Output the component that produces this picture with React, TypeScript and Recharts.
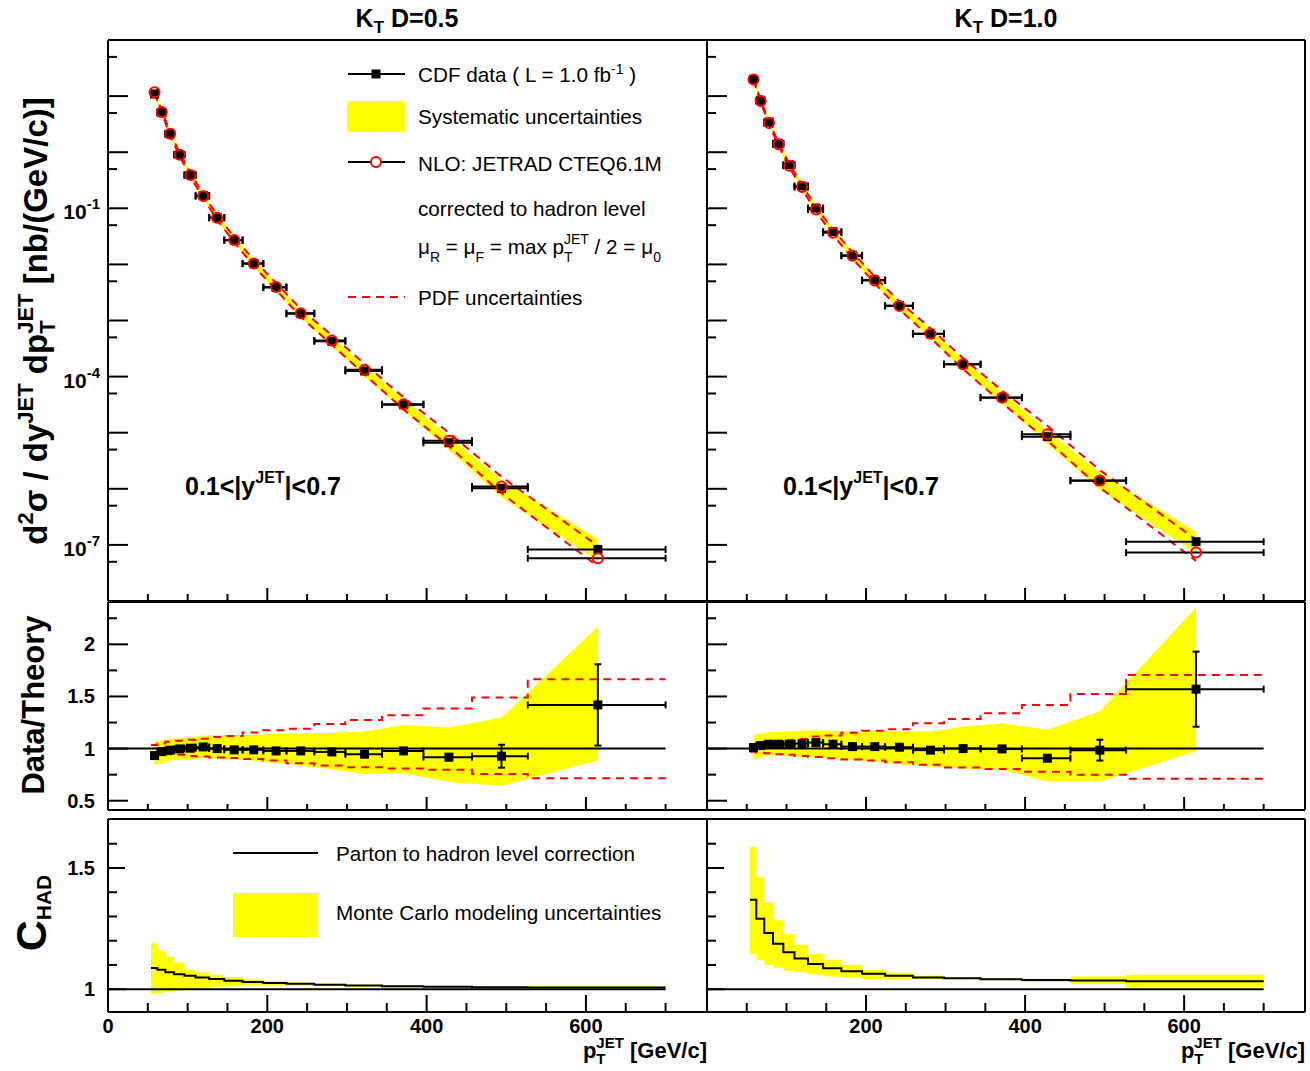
import React from 'react';
import { ComposedChart, Area, Line, Scatter, ErrorBar, XAxis, YAxis, ReferenceLine } from 'recharts';

const FONT = '"Liberation Sans", Arial, Helvetica, sans-serif';
const YELLOW = '#ffff00';
const RED = '#ff0000';

// pT bins [GeV/c] and mean pT of each bin
const binEdges = [54, 62, 72, 83, 96, 110, 127, 146, 169, 195, 224, 259, 298, 344, 396, 457, 527, 700];
const ptMean = [58.5, 67.5, 78, 90, 103.5, 119.5, 137, 158.5, 183, 211, 242, 281, 322, 371, 428, 494, 615];

// K_T D=0.5
const xsecD05 = [10.9, 5.06, 2.11, 0.9, 0.393, 0.168, 0.068, 0.0269, 0.0103, 3.87e-3, 1.32e-3, 4.26e-4, 1.26e-4, 3.15e-5, 6.63e-6, 1.02e-6, 8.3e-8];
const nloD05 = [11.7, 5.21, 2.14, 0.903, 0.391, 0.165, 0.068, 0.0272, 0.0104, 3.96e-3, 1.35e-3, 4.4e-4, 1.33e-4, 3.22e-5, 7.22e-6, 1.1e-6, 5.8e-8];
const ratioD05 = [0.933, 0.971, 0.985, 0.997, 1.004, 1.016, 1.0, 0.988, 0.988, 0.978, 0.978, 0.968, 0.946, 0.978, 0.918, 0.927, 1.419];
const statD05 = [0.004, 0.004, 0.004, 0.004, 0.004, 0.004, 0.004, 0.004, 0.005, 0.005, 0.006, 0.008, 0.012, 0.018, 0.03, 0.11, 0.39];
const sysUpD05 = [0.14, 0.11, 0.11, 0.1, 0.105, 0.105, 0.13, 0.145, 0.145, 0.165, 0.17, 0.19, 0.23, 0.255, 0.31, 0.4, 0.53];
const sysDnD05 = [0.1, 0.115, 0.1, 0.105, 0.105, 0.105, 0.095, 0.09, 0.105, 0.12, 0.14, 0.175, 0.2, 0.22, 0.26, 0.305, 0.375];
const pdfUpD05 = [1.035, 1.05, 1.065, 1.075, 1.085, 1.095, 1.11, 1.12, 1.155, 1.175, 1.19, 1.235, 1.275, 1.32, 1.385, 1.49, 1.665];
const pdfDnD05 = [0.955, 0.95, 0.945, 0.94, 0.93, 0.925, 0.915, 0.91, 0.9, 0.885, 0.86, 0.837, 0.822, 0.808, 0.796, 0.757, 0.716];
const chadD05 = [1.087, 1.08, 1.07, 1.062, 1.055, 1.048, 1.042, 1.035, 1.03, 1.026, 1.022, 1.018, 1.015, 1.012, 1.01, 1.008, 1.007];
const chadHiD05 = [1.19, 1.16, 1.135, 1.11, 1.08, 1.07, 1.06, 1.05, 1.04, 1.033, 1.028, 1.022, 1.018, 1.014, 1.012, 1.012, 1.012];
const chadLoD05 = [0.98, 0.985, 0.99, 0.995, 1.0, 1.005, 1.01, 1.012, 1.015, 1.015, 1.014, 1.012, 1.01, 1.008, 1.007, 1.004, 1.003];

// K_T D=1.0
const xsecD10 = [19.9, 8.41, 3.45, 1.44, 0.598, 0.25, 0.101, 0.0383, 0.0145, 5.27e-3, 1.84e-3, 5.74e-4, 1.66e-4, 4.21e-5, 8.49e-6, 1.39e-6, 1.14e-7];
const nloD10 = [19.7, 8.17, 3.31, 1.38, 0.574, 0.239, 0.0955, 0.0368, 0.0142, 5.17e-3, 1.82e-3, 5.83e-4, 1.66e-4, 4.22e-5, 9.35e-6, 1.41e-6, 7.3e-8];
const ratioD10 = [1.01, 1.029, 1.042, 1.042, 1.042, 1.048, 1.058, 1.042, 1.019, 1.019, 1.013, 0.985, 1.0, 0.997, 0.908, 0.985, 1.57];
const statD10 = [0.004, 0.004, 0.004, 0.004, 0.004, 0.004, 0.004, 0.004, 0.005, 0.005, 0.006, 0.008, 0.012, 0.018, 0.03, 0.1, 0.36];
const sysUpD10 = [0.12, 0.113, 0.11, 0.115, 0.12, 0.118, 0.109, 0.125, 0.148, 0.148, 0.151, 0.18, 0.21, 0.247, 0.3, 0.38, 0.5];
const sysDnD10 = [0.117, 0.11, 0.098, 0.103, 0.11, 0.12, 0.13, 0.13, 0.127, 0.141, 0.161, 0.16, 0.19, 0.2, 0.247, 0.306, 0.38];
const pdfUpD10 = [1.035, 1.045, 1.06, 1.067, 1.08, 1.093, 1.115, 1.125, 1.153, 1.17, 1.186, 1.243, 1.285, 1.34, 1.419, 1.524, 1.707];
const pdfDnD10 = [0.97, 0.96, 0.955, 0.946, 0.94, 0.93, 0.92, 0.908, 0.895, 0.885, 0.87, 0.844, 0.818, 0.805, 0.779, 0.748, 0.71];
const chadD10 = [1.369, 1.291, 1.232, 1.188, 1.152, 1.127, 1.104, 1.086, 1.074, 1.064, 1.055, 1.048, 1.045, 1.041, 1.038, 1.036, 1.033];
const chadHiD10 = [1.587, 1.462, 1.358, 1.284, 1.228, 1.183, 1.146, 1.121, 1.101, 1.079, 1.068, 1.055, 1.049, 1.045, 1.042, 1.052, 1.06];
const chadLoD10 = [1.145, 1.119, 1.1, 1.089, 1.076, 1.07, 1.062, 1.052, 1.048, 1.042, 1.04, 1.041, 1.041, 1.038, 1.031, 1.022, 1.007];

// axis ticks
const xTicks = [0, 50, 100, 150, 200, 250, 300, 350, 400, 450, 500, 550, 600, 650, 700];
const logTicks = [5e-8, 1e-7, 5e-7, 1e-6, 5e-6, 1e-5, 5e-5, 1e-4, 5e-4, 1e-3, 5e-3, 1e-2, 5e-2, 0.1, 0.5, 1, 5, 10, 50];
const logLabelExp = [-7, -4, -1];
const ratioTicks = [0.5, 0.75, 1, 1.25, 1.5, 1.75, 2, 2.25];
const ratioLabels = [0.5, 1, 1.5, 2];
const chadTicks = [1, 1.1, 1.2, 1.3, 1.4, 1.5, 1.6];
const chadLabels = [1, 1.5];
const unityLine = [{ x: 0, y: 1 }, { x: 700, y: 1 }];

const X_DOMAIN: [number, number] = [0, 752];
const LOG_DOMAIN: [number, number] = [1e-8, 100];
const RATIO_DOMAIN: [number, number] = [0.411, 2.406];
const CHAD_DOMAIN: [number, number] = [0.906, 1.702];

const buildPoints = (xsec: number[], nlo: number[], ratio: number[], stat: number[], sysUp: number[], sysDn: number[], pdfUp: number[], pdfDn: number[]) =>
  ptMean.map((x, i) => ({
    x,
    xErr: [x - binEdges[i], binEdges[i + 1] - x],
    xsec: xsec[i],
    nlo: nlo[i],
    xsecBand: [xsec[i] * (1 - sysDn[i]), xsec[i] * (1 + sysUp[i])],
    nloUp: nlo[i] * pdfUp[i],
    nloDn: nlo[i] * pdfDn[i],
    ratio: ratio[i],
    stat: stat[i],
    ratioBand: [ratio[i] * (1 - sysDn[i]), ratio[i] * (1 + sysUp[i])],
  }));

const buildSteps = (pdfUp: number[], pdfDn: number[], chad: number[], chadLo: number[], chadHi: number[]) =>
  binEdges.map((x, i) => {
    const j = Math.min(i, chad.length - 1);
    return { x, pdfUp: pdfUp[j], pdfDn: pdfDn[j], chad: chad[j], chadBand: [chadLo[j], chadHi[j]] };
  });

const pts05 = buildPoints(xsecD05, nloD05, ratioD05, statD05, sysUpD05, sysDnD05, pdfUpD05, pdfDnD05);
const pts10 = buildPoints(xsecD10, nloD10, ratioD10, statD10, sysUpD10, sysDnD10, pdfUpD10, pdfDnD10);
const steps05 = buildSteps(pdfUpD05, pdfDnD05, chadD05, chadLoD05, chadHiD05);
const steps10 = buildSteps(pdfUpD10, pdfDnD10, chadD10, chadLoD10, chadHiD10);

const FRAME = { stroke: '#000', strokeWidth: 2 };
// outer space around each plot frame; axes take 1px each (a 0px axis is not drawn)
const PAD = { top: 10, right: 12, bottom: 60, left: 110 };
const M = { top: PAD.top - 1, right: PAD.right - 1, bottom: PAD.bottom - 1, left: PAD.left - 1 };

const near = (list: number[], v: number) => list.some((l) => Math.abs(l - v) < 1e-9);

const logLabel = (v: number, x: number, y: number) => {
  const lg = Math.log10(v);
  const e = Math.round(lg);
  if (Math.abs(lg - e) > 1e-6 || !logLabelExp.includes(e)) return null;
  return (
    <text x={x - 8} y={y + 11} textAnchor="end" fontFamily={FONT} fontWeight="bold" fontSize={21}>
      10<tspan dy={-10} fontSize={15}>{String(e)}</tspan>
    </text>
  );
};

const linLabel = (labels: number[]) => (v: number, x: number, y: number) =>
  near(labels, v) ? (
    <text x={x - 13} y={y + 7} textAnchor="end" fontFamily={FONT} fontWeight="bold" fontSize={20}>
      {String(v)}
    </text>
  ) : null;

type TickCfg = {
  major: (v: number) => boolean;
  majorLen: number;
  minorLen: number;
  label?: ((v: number, x: number, y: number) => React.ReactNode) | null;
};

const yTick = (cfg: TickCfg) => (props: any) => {
  const { x, y, payload } = props;
  const v = payload.value;
  const len = cfg.major(v) ? cfg.majorLen : cfg.minorLen;
  return (
    <g>
      <line x1={x} x2={x + len} y1={y} y2={y} stroke="#000" strokeWidth={2} />
      {cfg.label ? cfg.label(v, x, y) : null}
    </g>
  );
};

const xTick = (cfg: TickCfg) => (props: any) => {
  const { x, y, payload } = props;
  const v = payload.value;
  const len = cfg.major(v) ? cfg.majorLen : cfg.minorLen;
  return (
    <g>
      <line x1={x} x2={x} y1={y} y2={y - len} stroke="#000" strokeWidth={2} />
      {cfg.label ? cfg.label(v, x, y) : null}
    </g>
  );
};

const xMajor = (v: number) => v % 200 === 0;
const isDecade = (v: number) => Math.abs(Math.log10(v) - Math.round(Math.log10(v))) < 1e-6;
const isHalf = (v: number) => Math.abs(v * 2 - Math.round(v * 2)) < 1e-9;

const xLabel = (labels: number[]) => (v: number, x: number, y: number) =>
  near(labels, v) ? (
    <text x={x} y={y + 21} textAnchor="middle" fontFamily={FONT} fontWeight="bold" fontSize={20}>
      {String(v)}
    </text>
  ) : null;

const frameAxes = (xCfg: TickCfg, yCfg: TickCfg, yDomain: [number, number], yTicks: number[], log: boolean) => [
  <XAxis key="xb" dataKey="x" type="number" domain={X_DOMAIN} allowDataOverflow ticks={xTicks} interval={0}
    height={1} tickSize={0} tickMargin={0} tickLine={false} axisLine={FRAME} tick={xTick(xCfg)} />,
  <XAxis key="xt" xAxisId="top" orientation="top" type="number" domain={X_DOMAIN} allowDataOverflow
    height={1} tick={false} tickLine={false} axisLine={FRAME} />,
  <YAxis key="yl" type="number" scale={log ? 'log' : 'linear'} domain={yDomain} allowDataOverflow ticks={yTicks} interval={0}
    width={1} tickSize={0} tickMargin={0} tickLine={false} axisLine={FRAME} tick={yTick(yCfg)} />,
  <YAxis key="yr" yAxisId="right" orientation="right" type="number" scale={log ? 'log' : 'linear'} domain={yDomain} allowDataOverflow
    width={1} tick={false} tickLine={false} axisLine={FRAME} />,
];

const Square = (props: any) => {
  const { cx, cy } = props;
  if (cx == null || cy == null) return <g />;
  return <rect x={cx - 4.5} y={cy - 4.5} width={9} height={9} fill="#000" />;
};

const OpenCircle = (props: any) => {
  const { cx, cy } = props;
  if (cx == null || cy == null) return <g />;
  return <circle cx={cx} cy={cy} r={5} fill="none" stroke={RED} strokeWidth={2} />;
};

function Panel({ left, top, width, height, data, children }: any) {
  return (
    <div style={{ position: 'absolute', left: left - PAD.left, top: top - PAD.top }}>
      <ComposedChart width={width + PAD.left + PAD.right} height={height + PAD.top + PAD.bottom} margin={M} data={data}>
        {children}
      </ComposedChart>
    </div>
  );
}

const COLS = [
  { left: 108, width: 599, pts: pts05, steps: steps05, labels: true },
  { left: 707, width: 598, pts: pts10, steps: steps10, labels: false },
];

function TopPanel({ col }: any) {
  const yCfg: TickCfg = { major: isDecade, majorLen: 20, minorLen: 9, label: col.labels ? logLabel : null };
  const xCfg: TickCfg = { major: xMajor, majorLen: 13, minorLen: 7 };
  return (
    <Panel left={col.left} top={40} width={col.width} height={561} data={col.pts}>
      <Area dataKey="xsecBand" type="linear" fill={YELLOW} fillOpacity={1} stroke="none" dot={false} activeDot={false} isAnimationActive={false} />
      <Line dataKey="nloUp" type="linear" stroke={RED} strokeWidth={2} strokeDasharray="8 6" dot={false} activeDot={false} isAnimationActive={false} />
      <Line dataKey="nloDn" type="linear" stroke={RED} strokeWidth={2} strokeDasharray="8 6" dot={false} activeDot={false} isAnimationActive={false} />
      <Scatter dataKey="xsec" shape={Square} isAnimationActive={false}>
        <ErrorBar dataKey="xErr" direction="x" width={3.5} stroke="#000" strokeWidth={2} />
      </Scatter>
      <Scatter dataKey="nlo" shape={OpenCircle} isAnimationActive={false}>
        <ErrorBar dataKey="xErr" direction="x" width={3.5} stroke="#000" strokeWidth={2} />
      </Scatter>
      {frameAxes(xCfg, yCfg, LOG_DOMAIN, logTicks, true)}
    </Panel>
  );
}

function RatioPanel({ col }: any) {
  const yCfg: TickCfg = { major: isHalf, majorLen: 20, minorLen: 9, label: col.labels ? linLabel(ratioLabels) : null };
  const xCfg: TickCfg = { major: xMajor, majorLen: 13, minorLen: 6 };
  return (
    <Panel left={col.left} top={602} width={col.width} height={208} data={col.pts}>
      <Area dataKey="ratioBand" type="linear" fill={YELLOW} fillOpacity={1} stroke="none" dot={false} activeDot={false} isAnimationActive={false} />
      <Line data={col.steps} dataKey="pdfUp" type="stepAfter" stroke={RED} strokeWidth={2} strokeDasharray="8 6" dot={false} activeDot={false} isAnimationActive={false} />
      <Line data={col.steps} dataKey="pdfDn" type="stepAfter" stroke={RED} strokeWidth={2} strokeDasharray="8 6" dot={false} activeDot={false} isAnimationActive={false} />
      <ReferenceLine segment={unityLine} stroke="#000" strokeWidth={2} ifOverflow="visible" />
      <Scatter dataKey="ratio" shape={Square} isAnimationActive={false}>
        <ErrorBar dataKey="xErr" direction="x" width={3.5} stroke="#000" strokeWidth={2} />
        <ErrorBar dataKey="stat" direction="y" width={3.5} stroke="#000" strokeWidth={2} />
      </Scatter>
      {frameAxes(xCfg, yCfg, RATIO_DOMAIN, ratioTicks, false)}
    </Panel>
  );
}

function ChadPanel({ col }: any) {
  const yCfg: TickCfg = { major: (v) => near(chadLabels, v), majorLen: 17, minorLen: 9, label: col.labels ? linLabel(chadLabels) : null };
  const xCfg: TickCfg = { major: xMajor, majorLen: 17, minorLen: 9, label: xLabel(col.labels ? [0, 200, 400, 600] : [200, 400, 600]) };
  return (
    <Panel left={col.left} top={819} width={col.width} height={193} data={col.steps}>
      <Area dataKey="chadBand" type="stepAfter" fill={YELLOW} fillOpacity={1} stroke="none" dot={false} activeDot={false} isAnimationActive={false} />
      <ReferenceLine segment={unityLine} stroke="#000" strokeWidth={2} ifOverflow="visible" />
      <Line dataKey="chad" type="stepAfter" stroke="#000" strokeWidth={2} dot={false} activeDot={false} isAnimationActive={false} />
      {frameAxes(xCfg, yCfg, CHAD_DOMAIN, chadTicks, false)}
    </Panel>
  );
}

function Overlay() {
  const t = { fontFamily: FONT };
  const b = { fontFamily: FONT, fontWeight: 'bold' as const };
  const legendRows = [74, 116, 163, 208, 250, 297];
  return (
    <svg width={1310} height={1071} style={{ position: 'absolute', left: 0, top: 0, pointerEvents: 'none' }}>
      {/* column titles */}
      <text x={407} y={27} textAnchor="middle" fontSize={25} {...b}>
        K<tspan dy={6} fontSize={17}>T</tspan><tspan dy={-6}> D=0.5</tspan>
      </text>
      <text x={1006} y={27} textAnchor="middle" fontSize={25} {...b}>
        K<tspan dy={6} fontSize={17}>T</tspan><tspan dy={-6}> D=1.0</tspan>
      </text>

      {/* y axis titles */}
      <text transform="translate(47,321) rotate(-90)" textAnchor="middle" fontSize={33} {...b}>
        d<tspan dy={-14} fontSize={22}>2</tspan>
        <tspan dy={14}>σ / dy</tspan>
        <tspan dy={-14} fontSize={22}>JET</tspan>
        <tspan dy={14}> dp</tspan>
        <tspan dy={8} fontSize={22}>T</tspan>
        <tspan dx={-13.4} dy={-22} fontSize={22}>JET</tspan>
        <tspan dy={14}> [nb/(GeV/c)]</tspan>
      </text>
      <text transform="translate(44,705) rotate(-90)" textAnchor="middle" fontSize={31} {...b}>Data/Theory</text>
      <text transform="translate(46,913) rotate(-90)" textAnchor="middle" fontSize={43} {...b}>
        C<tspan dy={5} fontSize={21}>HAD</tspan>
      </text>

      {/* x axis titles */}
      {[707, 1305].map((xr) => (
        <text key={xr} x={xr} y={1058} textAnchor="end" fontSize={22} {...b}>
          p<tspan dy={6} fontSize={15}>T</tspan>
          <tspan dx={-9.2} dy={-16} fontSize={15}>JET</tspan>
          <tspan dy={10}> [GeV/c]</tspan>
        </text>
      ))}

      {/* rapidity labels */}
      {[185, 783].map((xl) => (
        <text key={xl} x={xl} y={495} fontSize={25} {...b}>
          {'0.1<|y'}<tspan dy={-12} fontSize={16}>JET</tspan><tspan dy={12}>{'|<0.7'}</tspan>
        </text>
      ))}

      {/* top-left legend */}
      <line x1={348} x2={405} y1={legendRows[0]} y2={legendRows[0]} stroke="#000" strokeWidth={2} />
      <rect x={371.5} y={legendRows[0] - 4.5} width={9} height={9} fill="#000" />
      <rect x={347} y={101} width={58} height={31} fill={YELLOW} />
      <line x1={348} x2={405} y1={legendRows[2] - 1} y2={legendRows[2] - 1} stroke="#000" strokeWidth={2} />
      <circle cx={376} cy={legendRows[2] - 1} r={5} fill="#fff" stroke={RED} strokeWidth={2} />
      <line x1={348} x2={405} y1={legendRows[5]} y2={legendRows[5]} stroke={RED} strokeWidth={2} strokeDasharray="8 6" />
      <g fontSize={20.7} {...t}>
        <text x={418} y={legendRows[0] + 8}>
          CDF data ( L = 1.0 fb<tspan dy={-8} fontSize={14}>-1</tspan><tspan dy={8}> )</tspan>
        </text>
        <text x={418} y={legendRows[1] + 8}>Systematic uncertainties</text>
        <text x={418} y={legendRows[2] + 8}>NLO: JETRAD CTEQ6.1M</text>
        <text x={418} y={legendRows[3] + 8}>corrected to hadron level</text>
        <text x={418} y={legendRows[4] + 4}>
          μ<tspan dy={8} fontSize={14}>R</tspan><tspan dy={-8}> = μ</tspan><tspan dy={8} fontSize={14}>F</tspan>
          <tspan dy={-8}> = max p</tspan><tspan dy={8} fontSize={14}>T</tspan>
          <tspan dx={-8.6} dy={-18} fontSize={14}>JET</tspan>
          <tspan dy={10}> / 2 = μ</tspan><tspan dy={8} fontSize={14}>0</tspan>
        </text>
        <text x={418} y={legendRows[5] + 8}>PDF uncertainties</text>
      </g>

      {/* bottom-left legend */}
      <line x1={233} x2={318} y1={853} y2={853} stroke="#000" strokeWidth={2} />
      <rect x={233} y={893} width={85} height={44} fill={YELLOW} />
      <g fontSize={20.7} {...t}>
        <text x={336} y={861}>Parton to hadron level correction</text>
        <text x={336} y={920}>Monte Carlo modeling uncertainties</text>
      </g>
    </svg>
  );
}

export default function App() {
  return (
    <div style={{ position: 'absolute', left: 0, top: 0, width: 1310, height: 1071, background: '#fff', fontFamily: FONT }}>
      {COLS.map((col, i) => (
        <React.Fragment key={i}>
          <TopPanel col={col} />
          <RatioPanel col={col} />
          <ChadPanel col={col} />
        </React.Fragment>
      ))}
      <Overlay />
    </div>
  );
}
